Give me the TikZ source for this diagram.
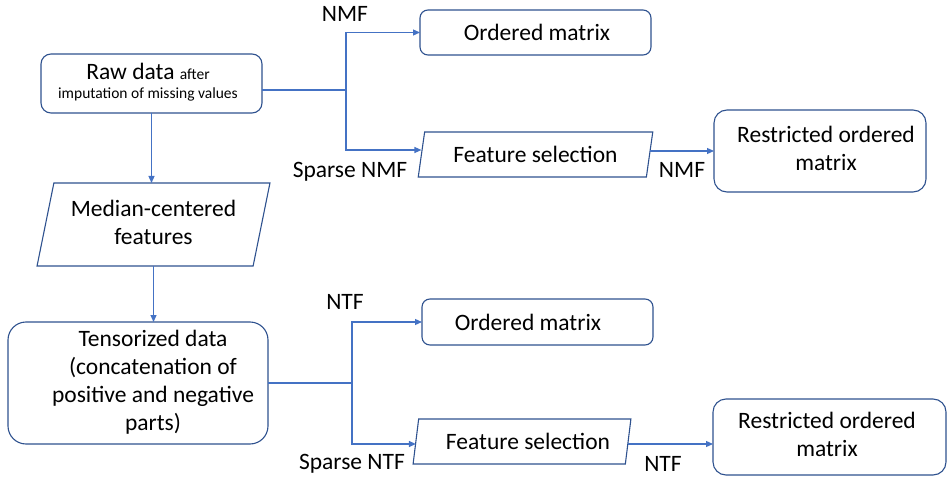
\documentclass[tikz,border=0pt]{standalone}
\usepackage{fontspec}
\setmainfont{Carlito}
\usetikzlibrary{shapes.geometric,arrows.meta,calc}
\definecolor{boxc}{HTML}{2F528F}
\definecolor{linec}{HTML}{4472C4}
\newcommand\mltab[1]{\begin{tabular}{@{}c@{}}#1\end{tabular}}
\newcommand\smalltxt{\fontsize{15.5}{18}\selectfont}
\begin{document}
\begin{tikzpicture}[x=1pt,y=-1pt,
  every node/.style={font=\fontsize{23.5}{28}\selectfont, inner sep=0pt, outer sep=0pt},
  rbox/.style={draw=boxc, line width=1.1pt, fill=white, align=center},
  para/.style={draw=boxc, line width=1.1pt, fill=white, trapezium, trapezium stretches=true,
    trapezium left angle=74, trapezium right angle=106},
  conn/.style={draw=linec, line width=1.2pt},
  arr/.style={conn, -{Triangle[length=7pt,width=6pt]}}]
\useasboundingbox (0,0) rectangle (947,478);

% boxes
\node[rbox, rounded corners=10pt, minimum width=221pt, minimum height=59pt] (raw) at (151.5,83.5)
  {\hspace*{-7pt}\mltab{Raw data {\smalltxt after}\\[-8.5pt]{\smalltxt imputation of missing values}}};
\node[rbox, rounded corners=8pt, minimum width=231pt, minimum height=45pt] (om1) at (535.5,32.5)
  {\hspace*{3pt}Ordered matrix};
\node[para, minimum width=235pt, minimum height=45pt] (fs1) at (535.5,154.5) {Feature selection};
\node[rbox, rounded corners=13pt, minimum width=212pt, minimum height=82pt] (rs1) at (820,151)
  {\hspace*{12pt}\mltab{Restricted ordered\\matrix}};
\node[para, trapezium left angle=76, trapezium right angle=104, minimum width=233pt, minimum height=83pt] (med) at (153.5,224.5)
  {\mltab{Median-centered\\features}};
\node[rbox, rounded corners=18pt, minimum width=260pt, minimum height=122pt] (ten) at (138,383)
  {\hspace*{30pt}\raisebox{-2pt}{\mltab{Tensorized data\\(concatenation of\\positive and negative\\parts)}}};
\node[rbox, rounded corners=8pt, minimum width=231pt, minimum height=46pt] (om2) at (537.5,322)
  {\hspace*{-19pt}Ordered matrix};
\node[para, minimum width=218pt, minimum height=45pt] (fs2) at (522,441.5)
  {\hspace*{12pt}Feature selection};
\node[rbox, rounded corners=13pt, minimum width=233pt, minimum height=76pt] (rs2) at (829.5,437)
  {\hspace*{-5pt}\raisebox{-5.5pt}{\mltab{Restricted ordered\\matrix}}};

% labels
\node (l1) at (345,14) {NMF};
\node (l2) at (350,172) {Sparse NMF};
\node (l3) at (682,170) {NMF};
\node (l4) at (345,302) {NTF};
\node (l5) at (352,464) {Sparse NTF};
\node (l6) at (663,464) {NTF};

% connectors
\coordinate (j1) at (346,90);
\coordinate (j2) at (352,383);
\draw[conn] ([yshift=-6.5pt]raw.east) -- (j1);
\draw[arr] (j1) |- (om1.west);
\draw[arr] (j1) |- ([yshift=4.5pt]fs1.west);
\draw[arr] (fs1.east |- rs1.west) -- (rs1.west);
\draw[arr] (raw.south) -- (raw.south |- med.north);
\draw[arr] (med.south) -- (med.south |- ten.north);
\draw[conn] (ten.east) -- (j2);
\draw[arr] (j2) |- (om2.west);
\draw[arr] (j2) |- ([yshift=-2.5pt]fs2.west);
\draw[arr] ([yshift=-2.5pt]fs2.east) -- ([yshift=-2.5pt]fs2.east -| rs2.west);
\end{tikzpicture}
\end{document}
